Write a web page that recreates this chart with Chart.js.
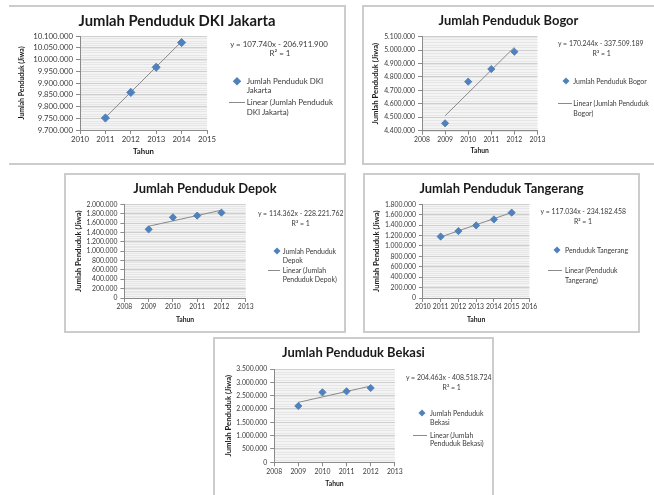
<!DOCTYPE html>
<html>
<head>
<meta charset="utf-8">
<script src="https://cdn.jsdelivr.net/npm/chart.js@4.4.0/dist/chart.umd.min.js"></script>
<style>
  html, body { margin: 0; padding: 0; background: #fff; }
  body { position: relative; width: 654px; height: 495px; overflow: hidden; font-family: Lato, "Liberation Sans", sans-serif; }
  .panel { position: absolute; box-sizing: border-box; border: 0 solid #cccccc; }
  canvas { position: absolute; }
  .txt { position: absolute; line-height: 10px; height: 10px; color: #3a3a3a; white-space: nowrap; }
  .mid { transform: translateX(-50%); }
  .dia { position: absolute; background: #4f81bd; transform: translate(-50%, -50%) rotate(45deg); }
  .trendKey { position: absolute; height: 1px; background: #8a8a8a; }
</style>
</head>
<body>
<script>
// Penduduk tiap kota (jiwa) per tahun
const jakartaYears = [2011, 2012, 2013, 2014];
const jakartaPop = [9751000, 9860000, 9967000, 10072000];
const jakartaFit = [107740, -206911900];        // kemiringan, intersep garis tren
const jakartaXRange = [2010, 2015];
const jakartaYRange = [9700000, 10100000, 50000];

const bogorYears = [2009, 2010, 2011, 2012];
const bogorPop = [4455000, 4765000, 4859000, 4988000];
const bogorFit = [170244, -337509189];
const bogorXRange = [2008, 2013];
const bogorYRange = [4400000, 5100000, 100000];

const depokYears = [2009, 2010, 2011, 2012];
const depokPop = [1465000, 1722000, 1758000, 1822000];
const depokFit = [114362, -228221762];
const depokXRange = [2008, 2013];
const depokYRange = [0, 2000000, 200000];

const tangerangYears = [2011, 2012, 2013, 2014, 2015];
const tangerangPop = [1180000, 1285000, 1395000, 1510000, 1640000];
const tangerangFit = [117034, -234182458];
const tangerangXRange = [2010, 2016];
const tangerangYRange = [0, 1800000, 200000];

const bekasiYears = [2009, 2010, 2011, 2012];
const bekasiPop = [2112000, 2625000, 2662000, 2787000];
const bekasiFit = [204463, -408518724];
const bekasiXRange = [2008, 2013];
const bekasiYRange = [0, 3500000, 500000];

// Judul dan nama legenda
const jakartaText = ['Jumlah Penduduk DKI Jakarta', ['Jumlah Penduduk DKI', 'Jakarta'], ['Linear (Jumlah Penduduk', 'DKI Jakarta)']];
const bogorText = ['Jumlah Penduduk Bogor', ['Jumlah Penduduk Bogor'], ['Linear (Jumlah Penduduk', 'Bogor)']];
const depokText = ['Jumlah Penduduk Depok', ['Jumlah Penduduk', 'Depok'], ['Linear (Jumlah', 'Penduduk Depok)']];
const tangerangText = ['Jumlah Penduduk Tangerang', ['Penduduk Tangerang'], ['Linear (Penduduk', 'Tangerang)']];
const bekasiText = ['Jumlah Penduduk Bekasi', ['Jumlah Penduduk', 'Bekasi'], ['Linear (Jumlah', 'Penduduk Bekasi)']];

const xAxisTitle = 'Tahun';
const yAxisTitle = 'Jumlah Penduduk (Jiwa)';

// Tata letak tiap panel (piksel halaman); fs = skala huruf panel, yt = ukuran judul sumbu Y
const layouts = [
  { years: jakartaYears, pop: jakartaPop, fit: jakartaFit, xr: jakartaXRange, yr: jakartaYRange, text: jakartaText, fs: 1, yt: 6.9,
    box: [9, 5, 346, 165, 'trb'], canvas: [9, 6, 345, 164], plot: [80, 36, 207, 130],
    titleCY: 21.7, yTitleCX: 22, xTitleCY: 151,
    eq: [279, 43.7], r2: [280, 52.7],
    dia: [237.3, 81], key1: [246.7, [81, 90]], line: [229, 245, 102.3], key2: [246.7, [102.3, 112.3]] },
  { years: bogorYears, pop: bogorPop, fit: bogorFit, xr: bogorXRange, yr: bogorYRange, text: bogorText, fs: 0.875, yt: 7.7,
    box: [362, 5, 700, 165, 'ltb'], canvas: [363, 6, 654, 164], plot: [422, 36.7, 537.5, 130.7],
    titleCY: 20.7, yTitleCX: 376, xTitleCY: 151,
    eq: [600.7, 43.3], r2: [601.7, 53.3],
    dia: [565.7, 80.7], key1: [573.3, [80.7]], line: [558, 572, 103.3], key2: [573.3, [103.3, 113.3]] },
  { years: depokYears, pop: depokPop, fit: depokFit, xr: depokXRange, yr: depokYRange, text: depokText, fs: 0.875, yt: 7.7,
    box: [64, 173, 346, 333, 'ltrb'], canvas: [65, 174, 345, 332], plot: [124.4, 204.3, 245.7, 298],
    titleCY: 189, yTitleCX: 79, xTitleCY: 320,
    eq: [300.7, 213.3], r2: [300.7, 222.7],
    dia: [276.7, 250.7], key1: [282.7, [250.7, 259.5]], line: [268, 280, 270], key2: [282.7, [270, 279.3]] },
  { years: tangerangYears, pop: tangerangPop, fit: tangerangFit, xr: tangerangXRange, yr: tangerangYRange, text: tangerangText, fs: 0.875, yt: 7.7,
    box: [363, 173, 640, 333, 'ltrb'], canvas: [364, 174, 639, 332], plot: [422.9, 204.3, 529.4, 298],
    titleCY: 189, yTitleCX: 376.7, xTitleCY: 319.3,
    eq: [583.3, 211], r2: [583, 221],
    dia: [556.7, 250], key1: [565, [250]], line: [547.7, 562.3, 270], key2: [565, [270, 280]] },
  { years: bekasiYears, pop: bekasiPop, fit: bekasiFit, xr: bekasiXRange, yr: bekasiYRange, text: bekasiText, fs: 0.875, yt: 7.7,
    box: [213, 337, 494, 520, 'ltr'], canvas: [214, 338, 493, 495], plot: [274.2, 369, 394.8, 462.3],
    titleCY: 352.7, yTitleCX: 229, xTitleCY: 483.3,
    eq: [448.7, 377.3], r2: [451.7, 386.7],
    dia: [422, 413.3], key1: [430, [413.3, 422.3]], line: [413, 427, 435.7], key2: [430, [434.5, 443.3]] }
];

const dots = v => String(Math.round(Math.abs(v))).replace(/\B(?=(\d{3})+(?!\d))/g, '.');

// Area plot abu-abu muda dengan garis bantu minor (5 bagian per langkah)
const plotBackground = {
  id: 'plotBackground',
  beforeDraw(chart) {
    const { ctx, chartArea: a, scales: { y } } = chart;
    ctx.save();
    ctx.fillStyle = '#f4f4f4';
    ctx.fillRect(a.left, a.top, a.right - a.left, a.bottom - a.top);
    const minor = y.options.ticks.stepSize / 5;
    const n = Math.round((y.max - y.min) / minor);
    ctx.strokeStyle = '#e6e6e6';
    ctx.lineWidth = 1;
    for (let i = 0; i <= n; i++) {
      const py = Math.round(y.getPixelForValue(y.min + i * minor)) + 0.5;
      ctx.beginPath();
      ctx.moveTo(a.left, py);
      ctx.lineTo(a.right, py);
      ctx.stroke();
    }
    ctx.restore();
  }
};

function addDiv(cls, css, text) {
  const d = document.createElement('div');
  d.className = cls;
  d.style.cssText = css;
  if (text !== undefined) d.textContent = text;
  document.body.appendChild(d);
  return d;
}

function drawPanel(p) {
  const [bl, bt, br, bb, sides] = p.box;
  const bw = s => sides.includes(s) ? '2px' : '0';
  addDiv('panel', `left:${bl}px;top:${bt}px;width:${br - bl}px;height:${bb - bt}px;` +
    `border-left-width:${bw('l')};border-top-width:${bw('t')};border-right-width:${bw('r')};border-bottom-width:${bw('b')};`);

  const [cl, ct, cr, cb] = p.canvas;
  const [pl, pt, pr, pb] = p.plot;
  const cv = document.createElement('canvas');
  cv.width = cr - cl;
  cv.height = cb - ct;
  cv.style.left = cl + 'px';
  cv.style.top = ct + 'px';
  document.body.appendChild(cv);

  const f = p.fs;
  const TITLE = 14.8 * f, TLH = TITLE * 1.2;
  const TICK = 7.8 * f, AXT = 7.8 * f, AXLH = AXT * 1.2, YT = p.yt, YTLH = YT * 1.2;
  const NOTE = 7.9 * f;
  const titleTop = p.titleCY - ct - TLH / 2;
  const titleBottom = (pt - ct) - TLH - titleTop;

  const [slope, intercept] = p.fit;
  const x0 = p.years[0], x1 = p.years[p.years.length - 1];
  const trend = [{ x: x0, y: slope * x0 + intercept }, { x: x1, y: slope * x1 + intercept }];

  new Chart(cv, {
    type: 'scatter',
    data: {
      datasets: [
        { label: p.text[1].join(' '), data: p.years.map((x, i) => ({ x, y: p.pop[i] })),
          pointStyle: 'rectRot', pointRadius: 4 * f + 0.1, backgroundColor: '#4f81bd', borderColor: '#4677b4', borderWidth: 0.8 },
        { label: p.text[2].join(' '), data: trend, showLine: true, pointRadius: 0,
          borderColor: '#8a8a8a', borderWidth: 1 }
      ]
    },
    options: {
      responsive: false, animation: false, events: [],
      layout: { padding: 0 },
      plugins: {
        legend: { display: false }, tooltip: { enabled: false },
        title: { display: true, text: p.text[0], color: '#1a1a1a',
          font: { family: 'Lato', size: TITLE, weight: 'bold', lineHeight: 1.2 },
          padding: { top: titleTop, bottom: titleBottom } }
      },
      scales: {
        x: {
          type: 'linear', position: 'bottom', min: p.xr[0], max: p.xr[1],
          afterFit: s => { s.height = cb - pb; },
          ticks: { stepSize: 1, autoSkip: false, maxRotation: 0, padding: 1, color: '#3a3a3a',
            font: { family: 'Lato', size: TICK }, callback: v => String(v) },
          grid: { drawOnChartArea: false, tickLength: 4, color: '#8a8a8a' },
          border: { color: '#8a8a8a' },
          title: { display: true, text: xAxisTitle, color: '#1a1a1a',
            font: { family: 'Lato', size: AXT, weight: 'bold', lineHeight: 1.2 },
            padding: { top: 0, bottom: cb - p.xTitleCY - AXLH / 2 } }
        },
        y: {
          type: 'linear', position: 'left', min: p.yr[0], max: p.yr[1],
          afterFit: s => { s.width = pl - cl; },
          ticks: { stepSize: p.yr[2], autoSkip: false, padding: 3, color: '#3a3a3a',
            font: { family: 'Lato', size: TICK }, callback: v => dots(v) },
          grid: { color: '#cfcfcf', tickColor: '#8a8a8a', tickLength: 4 },
          border: { color: '#8a8a8a' },
          title: { display: true, text: yAxisTitle, color: '#1a1a1a',
            font: { family: 'Lato', size: YT, weight: 'bold', lineHeight: 1.2 },
            padding: { top: p.yTitleCX - cl - YTLH / 2, bottom: 0 } }
        },
        yRight: {
          axis: 'y', type: 'linear', position: 'right', min: p.yr[0], max: p.yr[1],
          afterFit: s => { s.width = cr - pr; },
          grid: { display: false, drawTicks: false }, ticks: { display: false }, border: { display: false }
        }
      }
    },
    plugins: [plotBackground]
  });

  const note = `font-size:${NOTE}px;`;

  // Persamaan garis tren
  addDiv('txt mid', note + `left:${p.eq[0]}px;top:${p.eq[1] - 5}px;`, `y = ${dots(slope)}x - ${dots(intercept)}`);
  addDiv('txt mid', note + `left:${p.r2[0]}px;top:${p.r2[1] - 5}px;`, 'R\u00B2 = 1');

  // Legenda
  const side = 5.6 * f;
  addDiv('dia', `width:${side}px;height:${side}px;left:${p.dia[0]}px;top:${p.dia[1]}px;`);
  p.text[1].forEach((t, i) => addDiv('txt', note + `left:${p.key1[0]}px;top:${p.key1[1][i] - 5}px;`, t));
  addDiv('trendKey', `left:${p.line[0]}px;width:${p.line[1] - p.line[0]}px;top:${p.line[2] - 0.5}px;`);
  p.text[2].forEach((t, i) => addDiv('txt', note + `left:${p.key2[0]}px;top:${p.key2[1][i] - 5}px;`, t));
}

layouts.forEach(drawPanel);
</script>
</body>
</html>
